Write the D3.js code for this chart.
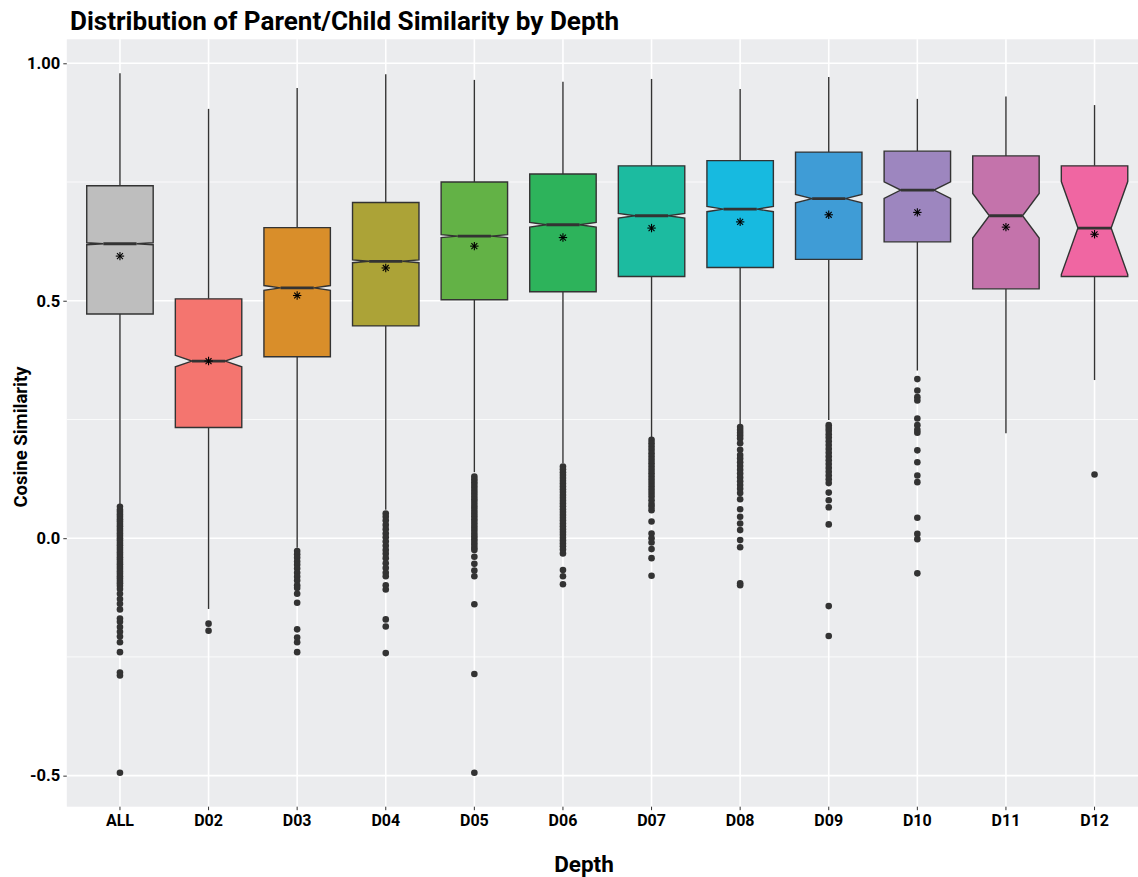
<!DOCTYPE html>
<html>
<head>
<meta charset="utf-8">
<script src="https://cdn.jsdelivr.net/npm/d3@7"></script>
<style>
  body { margin: 0; background: #fff; }
  text { font-family: Roboto, "Noto Sans", sans-serif; }
</style>
</head>
<body>
<div id="chart"></div>
<script>
// values
const categories = ["ALL", "D02", "D03", "D04", "D05", "D06", "D07", "D08", "D09", "D10", "D11", "D12"];
const whiskerHigh = [0.979, 0.904, 0.948, 0.977, 0.965, 0.961, 0.967, 0.946, 0.971, 0.925, 0.930, 0.912];
const q3 = [0.742, 0.504, 0.654, 0.707, 0.750, 0.767, 0.784, 0.795, 0.813, 0.815, 0.805, 0.784];
const medians = [0.620, 0.373, 0.527, 0.583, 0.636, 0.660, 0.679, 0.693, 0.715, 0.733, 0.679, 0.653];
const notchHalf = [0.002, 0.012, 0.005, 0.003, 0.003, 0.005, 0.005, 0.0055, 0.009, 0.0175, 0.047, 0.098];
const q1 = [0.472, 0.233, 0.382, 0.447, 0.502, 0.519, 0.551, 0.570, 0.587, 0.624, 0.525, 0.551];
const whiskerLow = [0.072, -0.149, -0.020, 0.060, 0.139, 0.158, 0.213, 0.240, 0.249, 0.353, 0.221, 0.333];
const means = [0.594, 0.373, 0.511, 0.569, 0.615, 0.633, 0.653, 0.666, 0.681, 0.686, 0.655, 0.640];
const fills = ["#BEBEBE", "#F4756F", "#D98E2A", "#ACA337", "#63B246", "#2DB35B", "#1CBBA0", "#17BAE0",
  "#3F9CD6", "#9D86BF", "#C473AB", "#F066A2"];

const outliers = {
  ALL: [0.066, 0.06, 0.055, 0.05, 0.045, 0.04, 0.035, 0.03, 0.025, 0.02, 0.015, 0.01, 0.005, 0.0, -0.005,
    -0.01, -0.015, -0.02, -0.025, -0.03, -0.035, -0.04, -0.045, -0.05, -0.055, -0.06, -0.065, -0.07, -0.075,
    -0.08, -0.085, -0.09, -0.095, -0.1, -0.107, -0.117, -0.128, -0.138, -0.15, -0.169, -0.176, -0.187,
    -0.197, -0.207, -0.219, -0.24, -0.283, -0.289, -0.494],
  D02: [-0.18, -0.195],
  D03: [-0.027, -0.034, -0.041, -0.049, -0.056, -0.064, -0.073, -0.081, -0.089, -0.099, -0.105, -0.117,
    -0.136, -0.192, -0.209, -0.219, -0.24],
  D04: [0.052, 0.045, 0.037, 0.028, 0.019, 0.01, 0.002, -0.007, -0.016, -0.025, -0.033, -0.042, -0.053,
    -0.063, -0.073, -0.08, -0.099, -0.108, -0.171, -0.186, -0.242],
  D05: [0.13, 0.124, 0.118, 0.112, 0.106, 0.1, 0.094, 0.088, 0.082, 0.076, 0.07, 0.064, 0.058, 0.052,
    0.046, 0.04, 0.034, 0.028, 0.022, 0.016, 0.01, 0.004, -0.002, -0.008, -0.014, -0.02, -0.025, -0.039,
    -0.054, -0.068, -0.08, -0.139, -0.286, -0.494],
  D06: [0.151, 0.145, 0.139, 0.133, 0.127, 0.121, 0.115, 0.109, 0.103, 0.097, 0.091, 0.085, 0.079, 0.073,
    0.067, 0.061, 0.055, 0.049, 0.043, 0.037, 0.031, 0.025, 0.019, 0.013, 0.007, 0.001, -0.005, -0.011,
    -0.017, -0.024, -0.032, -0.067, -0.08, -0.097],
  D07: [0.207, 0.2, 0.193, 0.186, 0.179, 0.172, 0.165, 0.158, 0.151, 0.144, 0.137, 0.13, 0.123, 0.116,
    0.109, 0.102, 0.095, 0.088, 0.08, 0.072, 0.066, 0.059, 0.035, 0.01, 0.0, -0.009, -0.023, -0.042, -0.079],
  D08: [0.234, 0.228, 0.222, 0.216, 0.21, 0.2, 0.186, 0.175, 0.168, 0.16, 0.152, 0.144, 0.136, 0.128,
    0.12, 0.112, 0.104, 0.095, 0.082, 0.061, 0.045, 0.031, 0.017, -0.004, -0.019, -0.095, -0.099],
  D09: [0.238, 0.232, 0.226, 0.219, 0.212, 0.204, 0.196, 0.188, 0.18, 0.172, 0.164, 0.156, 0.148, 0.14,
    0.132, 0.124, 0.116, 0.096, 0.08, 0.065, 0.029, -0.143, -0.206],
  D10: [0.335, 0.311, 0.297, 0.29, 0.252, 0.238, 0.228, 0.222, 0.185, 0.16, 0.132, 0.118, 0.043, 0.009,
    -0.002, -0.074],
  D11: [],
  D12: [0.134]
};

const yTicks = [-0.5, 0, 0.5, 1];
const yTickLabels = ["-0.5", "0.0", "0.5", "1.00"];
const yMinor = [-0.25, 0.25, 0.75];

const W = 1138, H = 877;
const panel = { left: 66.8, top: 39.3, bottom: 806.7, right: 1147.7 };

const svg = d3.select("#chart").append("svg")
  .attr("width", W).attr("height", H);

const x = d3.scaleBand()
  .domain(categories)
  .range([panel.left, panel.right])
  .paddingInner(0)
  .paddingOuter(0.1);

const y = d3.scaleLinear()
  .domain([-0.5654, 1.0505])
  .range([panel.bottom, panel.top]);

const cx = (d) => x(d) + x.bandwidth() / 2;
const boxW = x.step() * 0.75;

// panel background
svg.append("rect")
  .attr("x", panel.left).attr("y", panel.top)
  .attr("width", panel.right - panel.left)
  .attr("height", panel.bottom - panel.top)
  .attr("fill", "#EBECEE");

const grid = svg.append("g");
grid.selectAll(".minor").data(yMinor).enter().append("line")
  .attr("x1", panel.left).attr("x2", panel.right)
  .attr("y1", (d) => y(d)).attr("y2", (d) => y(d))
  .attr("stroke", "#fff").attr("stroke-width", 0.8);
grid.selectAll(".major").data(yTicks).enter().append("line")
  .attr("x1", panel.left).attr("x2", panel.right)
  .attr("y1", (d) => y(d)).attr("y2", (d) => y(d))
  .attr("stroke", "#fff").attr("stroke-width", 1.6);
grid.selectAll(".vmajor").data(categories).enter().append("line")
  .attr("x1", (d) => cx(d)).attr("x2", (d) => cx(d))
  .attr("y1", panel.top).attr("y2", panel.bottom)
  .attr("stroke", "#fff").attr("stroke-width", 1.6);

// boxes
const boxes = svg.append("g").selectAll("g")
  .data(categories)
  .enter().append("g");

// whiskers
boxes.append("line")
  .attr("x1", (d) => cx(d)).attr("x2", (d) => cx(d))
  .attr("y1", (d, i) => y(whiskerHigh[i])).attr("y2", (d, i) => y(q3[i]))
  .attr("stroke", "#333").attr("stroke-width", 1.4);
boxes.append("line")
  .attr("x1", (d) => cx(d)).attr("x2", (d) => cx(d))
  .attr("y1", (d, i) => y(q1[i])).attr("y2", (d, i) => y(whiskerLow[i]))
  .attr("stroke", "#333").attr("stroke-width", 1.4);

// notched box
boxes.append("path")
  .attr("d", (d, i) => {
    const xl = cx(d) - boxW / 2, xr = cx(d) + boxW / 2, ind = boxW * 0.25;
    const pts = [
      [xl, y(q3[i])], [xl, y(medians[i] + notchHalf[i])], [xl + ind, y(medians[i])],
      [xl, y(medians[i] - notchHalf[i])], [xl, y(q1[i])], [xr, y(q1[i])],
      [xr, y(medians[i] - notchHalf[i])], [xr - ind, y(medians[i])],
      [xr, y(medians[i] + notchHalf[i])], [xr, y(q3[i])]
    ];
    return d3.line()(pts) + "Z";
  })
  .attr("fill", (d, i) => fills[i])
  .attr("stroke", "#333").attr("stroke-width", 1.4)
  .attr("stroke-linejoin", "miter");

// median
boxes.append("line")
  .attr("x1", (d) => cx(d) - boxW / 4).attr("x2", (d) => cx(d) + boxW / 4)
  .attr("y1", (d, i) => y(medians[i])).attr("y2", (d, i) => y(medians[i]))
  .attr("stroke", "#333").attr("stroke-width", 2.8);

// outliers
boxes.selectAll("circle")
  .data((d) => outliers[d].map((v) => ({ c: d, v })))
  .enter().append("circle")
  .attr("cx", (p) => cx(p.c)).attr("cy", (p) => y(p.v))
  .attr("r", 3.3).attr("fill", "#333");

// mean asterisk
const star = boxes.append("g")
  .attr("transform", (d, i) => `translate(${cx(d)},${y(means[i])})`);
[0, 45, 90, 135].forEach((a) => {
  const r = 4.2, rad = a * Math.PI / 180;
  star.append("line")
    .attr("x1", -r * Math.sin(rad)).attr("y1", -r * Math.cos(rad))
    .attr("x2", r * Math.sin(rad)).attr("y2", r * Math.cos(rad))
    .attr("stroke", "#000").attr("stroke-width", 1.1);
});

// axes
const yAxis = svg.append("g")
  .attr("transform", `translate(${panel.left},0)`)
  .call(d3.axisLeft(y).tickValues(yTicks).tickSize(3.5).tickPadding(3)
    .tickFormat((d, i) => yTickLabels[i]));
yAxis.select(".domain").remove();
yAxis.selectAll("line").attr("stroke", "#333");
yAxis.selectAll("text")
  .attr("fill", "#000").attr("font-size", 16.5).attr("font-weight", "bold")
  .style("font-family", "Roboto, sans-serif");

const xAxis = svg.append("g")
  .attr("transform", `translate(0,${panel.bottom})`)
  .call(d3.axisBottom(x).tickSize(3.5).tickPadding(4));
xAxis.select(".domain").remove();
xAxis.selectAll("line").attr("stroke", "#333");
xAxis.selectAll("text")
  .attr("fill", "#000").attr("font-size", 16).attr("font-weight", "bold")
  .style("font-family", "Roboto, sans-serif");

// titles
svg.append("text")
  .attr("x", 70).attr("y", 30)
  .attr("font-size", 25).attr("font-weight", "bold")
  .attr("textLength", 549).attr("lengthAdjust", "spacingAndGlyphs")
  .text("Distribution of Parent/Child Similarity by Depth");

svg.append("text")
  .attr("x", 584).attr("y", 872)
  .attr("text-anchor", "middle")
  .attr("font-size", 22.5).attr("font-weight", "bold")
  .text("Depth");

svg.append("text")
  .attr("transform", "translate(27,437) rotate(-90)")
  .attr("text-anchor", "middle")
  .attr("font-size", 18.5).attr("font-weight", "bold")
  .text("Cosine Similarity");
</script>
</body>
</html>
